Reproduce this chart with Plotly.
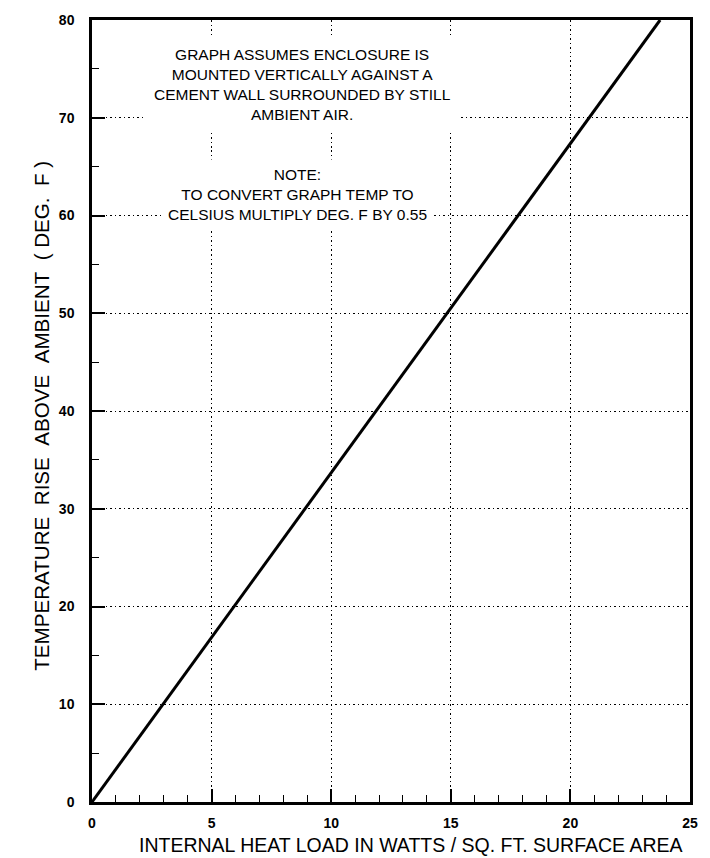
import plotly.graph_objects as go

# Data
heat_load = [0, 23.75]          # W / sq.ft.
temp_rise = [0, 80]             # deg F

x_ticks = [0, 5, 10, 15, 20, 25]
y_ticks = [0, 10, 20, 30, 40, 50, 60, 70, 80]

note1 = "GRAPH ASSUMES ENCLOSURE IS<br>MOUNTED VERTICALLY AGAINST A<br>CEMENT WALL SURROUNDED BY STILL<br>AMBIENT AIR."
note2 = "NOTE:<br>TO CONVERT GRAPH TEMP TO<br>CELSIUS MULTIPLY DEG. F BY 0.55"
x_title = "INTERNAL HEAT LOAD IN WATTS / SQ. FT. SURFACE AREA"
NB = "\u00a0"
y_title = f"TEMPERATURE{NB*2}RISE{NB*2}ABOVE{NB*2}AMBIENT{NB*2}({NB}DEG.{NB*2}F{NB})"

FONT = "Liberation Sans, Arial, sans-serif"

fig = go.Figure()
fig.add_trace(go.Scatter(x=heat_load, y=temp_rise, mode="lines",
                         line=dict(color="black", width=3), showlegend=False,
                         hoverinfo="skip"))

axis_common = dict(
    showline=True, linecolor="black", linewidth=2.5, mirror=True,
    showgrid=True, gridcolor="black", gridwidth=1.3, griddash="1.5px,3px",
    zeroline=False, ticks="inside", tickcolor="black", tickwidth=1.5, ticklen=13,
    tickfont=dict(family=FONT, size=14, color="black", weight="bold"),
)

fig.update_xaxes(range=[0, 25], tickvals=x_ticks, ticktext=[str(v) for v in x_ticks],
                 minor=dict(dtick=1, ticks="inside", ticklen=7, tickwidth=1.3,
                            tickcolor="black", showgrid=False),
                 ticklabelstandoff=6, **axis_common)
fig.update_yaxes(range=[0, 80], tickvals=y_ticks, ticktext=[str(v) for v in y_ticks],
                 minor=dict(dtick=5, ticks="inside", ticklen=7, tickwidth=1.3,
                            tickcolor="black", showgrid=False),
                 ticklabelstandoff=12, **axis_common)

fig.add_annotation(x=8.81, y=73.45, xref="x", yref="y", text=note1, showarrow=False,
                   font=dict(family=FONT, size=15.5, color="black"), align="center",
                   bgcolor="white", borderpad=8, xanchor="center", yanchor="middle")
fig.add_annotation(x=8.6, y=62.15, xref="x", yref="y", text=note2, showarrow=False,
                   font=dict(family=FONT, size=15.5, color="black"), align="center",
                   bgcolor="white", borderpad=6, xanchor="center", yanchor="middle")

fig.add_annotation(x=0.534, y=-0.0545, xref="paper", yref="paper", text=x_title,
                   showarrow=False, font=dict(family=FONT, size=19.5, color="black"),
                   xanchor="center", yanchor="middle")
fig.add_annotation(x=-0.0835, y=0.494, xref="paper", yref="paper", text=y_title,
                   showarrow=False, textangle=-90,
                   font=dict(family=FONT, size=20.6, color="black"),
                   xanchor="center", yanchor="middle")

fig.update_layout(width=710, height=858, autosize=False,
                  margin=dict(l=92, r=19, t=13, b=56),
                  paper_bgcolor="white", plot_bgcolor="white",
                  font=dict(family=FONT, color="black"))

fig.write_html("out.html", config={"displayModeBar": False},
               post_script="document.body.style.margin='0';document.body.style.overflow='hidden';")
